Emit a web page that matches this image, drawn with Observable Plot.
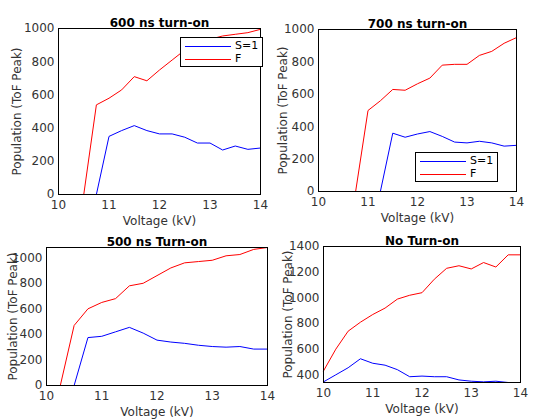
<!DOCTYPE html>
<html><head><meta charset="utf-8">
<script src="https://cdn.jsdelivr.net/npm/d3@7"></script>
<script src="https://cdn.jsdelivr.net/npm/@observablehq/plot@0.6"></script>
<style>
body{margin:0;background:#fff;font-family:"DejaVu Sans",sans-serif}
#wrap{position:relative;width:560px;height:420px}
#wrap svg{position:absolute}
.leg{position:absolute;border:1px solid #000;background:#fff;font-size:11px;padding:1px 4px;line-height:13px}
.leg span{display:inline-block;width:46px;height:0;border-top:1px solid;vertical-align:middle;margin-right:4px}
</style></head><body>
<div id="wrap"></div>
<script>
const voltage = [10,10.25,10.5,10.75,11,11.25,11.5,11.75,12,12.25,12.5,12.75,13,13.25,13.5,13.75,14]
const s600 = [0,0,0,0,350,385,415,385,365,365,345,310,310,268,292,272,280]
const f600 = [0,0,0,540,580,630,710,685,750,810,870,910,935,955,965,975,995]
const s700 = [0,0,0,0,0,0,360,335,355,370,340,305,300,310,300,280,285]
const f700 = [0,0,0,0,500,560,630,625,665,700,780,785,785,840,865,915,950]
const s500 = [0,0,0,375,385,420,455,410,355,340,330,315,305,300,305,285,285]
const f500 = [0,0,470,600,650,680,780,800,860,920,960,970,980,1015,1025,1065,1080]
const sNo = [345,400,455,525,490,475,440,385,390,385,385,360,350,345,350,340,340]
const fNo = [430,600,740,810,870,920,990,1020,1040,1145,1230,1250,1225,1275,1240,1335,1335]

const panels = [
  {title:"600 ns turn-on", s:s600, f:f600, y:[0,1000], yt:d3.range(0,1001,200), left:0, top:0, h:230, m:[28,20,36,58], lo:46},
  {title:"700 ns turn-on", s:s700, f:f700, y:[0,1000], yt:d3.range(0,1001,200), left:280, top:0, h:230, m:[29,44,39,38], lo:40},
  {title:"500 ns Turn-on", s:s500, f:f500, y:[0,1080], yt:d3.range(0,1001,200), left:0, top:230, h:190, m:[17,13,35,46], lo:38},
  {title:"No Turn-on", s:sNo, f:fNo, y:[340,1400], yt:d3.range(400,1401,200), left:280, top:230, h:190, m:[16,40,38,43], lo:40}
]
const wrap = d3.select("#wrap")
panels.forEach(p => {
  const rows = voltage.map((v,i) => ({v, s:p.s[i], f:p.f[i]}))
  const chart = Plot.plot({
    width:280, height:p.h,
    marginTop:p.m[0], marginRight:p.m[1], marginBottom:p.m[2], marginLeft:p.m[3],
    style:{fontSize:"12px", fontFamily:"DejaVu Sans", color:"#333", overflow:"visible"},
    x:{domain:[10,14], ticks:[10,11,12,13,14], tickFormat:"d", tickSize:0, tickPadding:6, label:"Voltage (kV)", labelAnchor:"center", labelOffset:30, labelArrow:"none"},
    y:{domain:p.y, ticks:p.yt, tickFormat:"d", tickSize:0, tickPadding:4, label:"Population (ToF Peak)", labelAnchor:"center", labelOffset:p.lo, labelArrow:"none"},
    marks:[
      Plot.line(rows, {x:"v", y:"s", stroke:"#0000ff", strokeWidth:1}),
      Plot.line(rows, {x:"v", y:"f", stroke:"#ff0000", strokeWidth:1}),
      Plot.frame({stroke:"#000"}),
      Plot.text([p.title], {frameAnchor:"top", dy:-10, fontWeight:"bold", fontSize:12, fill:"#000"})
    ]
  })
  d3.select(chart).style("left", p.left+"px").style("top", p.top+"px")
  wrap.append(() => chart)
})
const legs = [{left:180, top:37}, {left:415, top:152}]
legs.forEach(l => {
  wrap.append("div").attr("class","leg").style("left",l.left+"px").style("top",l.top+"px")
    .html('<div><span style="color:#0000ff"></span>S=1</div><div><span style="color:#ff0000"></span>F</div>')
})
</script></body></html>
